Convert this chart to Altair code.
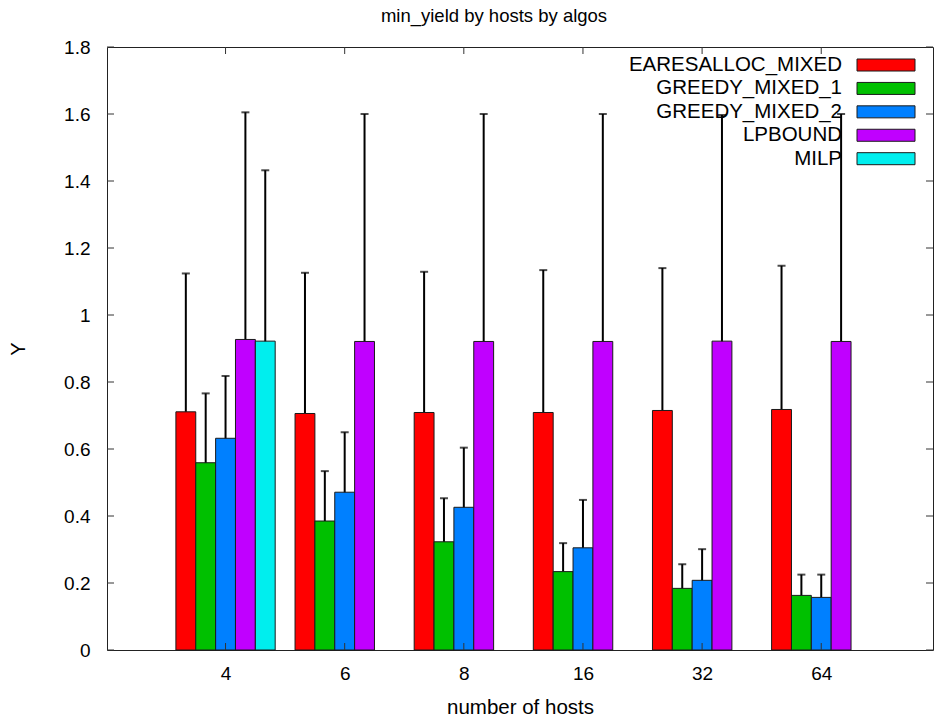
import altair as alt
import pandas as pd

hosts = ["4", "6", "8", "16", "32", "64"]
algos = ["EARESALLOC_MIXED", "GREEDY_MIXED_1", "GREEDY_MIXED_2", "LPBOUND", "MILP"]
colors = ["#ff0000", "#00c000", "#0080ff", "#c000ff", "#00eeee"]

eares_mean = [0.711, 0.706, 0.709, 0.709, 0.715, 0.718]
eares_err = [0.413, 0.420, 0.420, 0.425, 0.425, 0.429]
greedy1_mean = [0.559, 0.385, 0.323, 0.234, 0.184, 0.163]
greedy1_err = [0.207, 0.149, 0.130, 0.085, 0.072, 0.062]
greedy2_mean = [0.632, 0.471, 0.426, 0.305, 0.208, 0.157]
greedy2_err = [0.186, 0.179, 0.178, 0.143, 0.093, 0.068]
lpbound_mean = [0.927, 0.921, 0.921, 0.921, 0.922, 0.921]
lpbound_err = [0.678, 0.679, 0.679, 0.679, 0.675, 0.679]
milp_mean = [0.922, None, None, None, None, None]
milp_err = [0.510, None, None, None, None, None]

y_ticks = [0, 0.2, 0.4, 0.6, 0.8, 1.0, 1.2, 1.4, 1.6, 1.8]

FONT = "Liberation Sans"
W, H = 826, 603

means = [eares_mean, greedy1_mean, greedy2_mean, lpbound_mean, milp_mean]
errs = [eares_err, greedy1_err, greedy2_err, lpbound_err, milp_err]
nser = len(algos)
slot = 1.0 / (nser + 1)

rows = []
for gi, h in enumerate(hosts):
    for si, a in enumerate(algos):
        m = means[si][gi]
        e = errs[si][gi]
        if m is None:
            continue
        c = gi + (si - (nser - 1) / 2) * slot
        rows.append(dict(host=h, algo=a, xc=c, x1=c - slot / 2, x2=c + slot / 2,
                         mean=m, base=0.0, lo=m - e, hi=m + e))
df = pd.DataFrame(rows)

xscale = alt.Scale(domain=[-0.995, 5.938], nice=False, zero=False)
yscale = alt.Scale(domain=[0, 1.8], nice=False, zero=False)
cscale = alt.Scale(domain=algos, range=colors)

label_expr = "[" + ",".join("'%s'" % h for h in hosts) + "][datum.value]"

xaxis = alt.Axis(values=list(range(len(hosts))), labelExpr=label_expr, domain=False,
                 ticks=False, grid=False, labelPadding=14, labelFontSize=19,
                 labelFont=FONT, labelColor="#000", title="number of hosts",
                 titleFont=FONT, titleFontSize=20.5, titleFontWeight="normal",
                 titleColor="#000", titleY=57, titleBaseline="middle")
yaxis = alt.Axis(values=y_ticks, format="~g", domain=False, ticks=False, grid=False,
                 labelPadding=17, labelFontSize=19, labelFont=FONT, labelColor="#000",
                 title="Y", titleFont=FONT, titleFontSize=20, titleFontWeight="normal",
                 titleColor="#000", titleX=-89, titleY=H / 2, titleBaseline="middle",
                 titleAngle=-90)

base = alt.Chart(df)

err_rule = base.mark_rule(color="#000", strokeWidth=2).encode(
    x=alt.X("xc:Q", scale=xscale, axis=xaxis),
    y=alt.Y("lo:Q", scale=yscale, axis=yaxis),
    y2="hi:Q",
)
err_cap = base.mark_tick(orient="horizontal", size=8, thickness=2, color="#000").encode(
    x=alt.X("xc:Q", scale=xscale, axis=xaxis),
    y=alt.Y("hi:Q", scale=yscale, axis=yaxis),
)
bars = base.mark_rect(stroke="#1a1a1a", strokeWidth=1).encode(
    x=alt.X("x1:Q", scale=xscale, axis=xaxis),
    x2="x2:Q",
    y=alt.Y("mean:Q", scale=yscale, axis=yaxis),
    y2="base:Q",
    color=alt.Color("algo:N", scale=cscale, legend=None),
)

ytick_df = pd.DataFrame({"v": y_ticks})
xtick_df = pd.DataFrame({"v": list(range(len(hosts)))})
tick_color = "#333"
ytl = alt.Chart(ytick_df).mark_rule(color=tick_color, strokeWidth=1).encode(
    y=alt.Y("v:Q", scale=yscale, axis=yaxis), x=alt.value(0), x2=alt.value(7))
ytr = alt.Chart(ytick_df).mark_rule(color=tick_color, strokeWidth=1).encode(
    y=alt.Y("v:Q", scale=yscale, axis=yaxis), x=alt.value(W - 7), x2=alt.value(W))
xtb = alt.Chart(xtick_df).mark_rule(color=tick_color, strokeWidth=1).encode(
    x=alt.X("v:Q", scale=xscale, axis=xaxis), y=alt.value(H), y2=alt.value(H - 7))
xtt = alt.Chart(xtick_df).mark_rule(color=tick_color, strokeWidth=1).encode(
    x=alt.X("v:Q", scale=xscale, axis=xaxis), y=alt.value(0), y2=alt.value(7))

main = alt.layer(err_rule, err_cap, bars, ytl, ytr, xtb, xtt)

leg_df = pd.DataFrame({"algo": algos})
lscale = alt.Scale(type="band", domain=algos, range=[6.3, 123.4],
                   paddingInner=0.487, paddingOuter=0.2435)
leg_rect = alt.Chart(leg_df).mark_rect(stroke="#1a1a1a", strokeWidth=1).encode(
    x=alt.value(750), x2=alt.value(808),
    y=alt.Y("algo:N", scale=lscale, axis=None),
    color=alt.Color("algo:N", scale=cscale, legend=None),
)
leg_text = alt.Chart(leg_df).mark_text(align="right", baseline="middle", font=FONT,
                                       fontSize=20.5, color="#000").encode(
    x=alt.value(735),
    y=alt.Y("algo:N", scale=lscale, axis=None),
    text="algo:N",
)
legend = alt.layer(leg_rect, leg_text)

chart = alt.layer(main, legend).resolve_scale(y="independent").properties(
    width=W, height=H,
    title=alt.TitleParams("min_yield by hosts by algos", font=FONT, fontSize=18.5,
                          fontWeight="normal", color="#000", anchor="middle",
                          offset=13, dx=-26),
    autosize=alt.AutoSizeParams(type="none"),
    padding={"left": 107, "top": 47, "right": 1, "bottom": 69},
    background="white",
).configure_view(stroke="#222", strokeWidth=1)

chart.save("out.html", embed_options={"renderer": "svg", "actions": False})
